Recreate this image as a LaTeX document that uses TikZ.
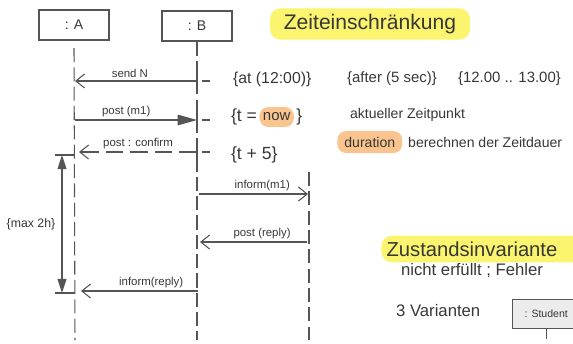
\documentclass[tikz,border=0pt]{standalone}
\usepackage{fontspec}
\setmainfont{Liberation Sans}
\usetikzlibrary{arrows.meta,positioning}
\definecolor{linegray}{RGB}{85,85,85}
\definecolor{inkgray}{RGB}{55,55,55}
\definecolor{hlyellow}{RGB}{250,244,110}
\definecolor{hlorange}{RGB}{250,196,142}
\tikzset{
    objbox/.style={
        draw=linegray,
        line width=0.6pt,
        minimum width=1.4cm,
        minimum height=0.6cm,
        text=inkgray,
        font=\fontsize{8}{9}\selectfont
    },
    lifeline/.style={
        linegray,
        line width=0.6pt,
        dash pattern=on 8pt off 3pt
    },
    % offene Pfeilspitze fuer Nachrichten
    msgarrow/.style={
        linegray,
        line width=0.6pt,
        -{Straight Barb[length=5pt,width=8pt]}
    },
    callarrow/.style={
        linegray,
        line width=0.6pt,
        -{Triangle[length=11pt,width=6pt]}
    },
    msglabel/.style={above, inner sep=1.5pt, text=inkgray, font=\fontsize{6.5}{7}\selectfont},
    note/.style={inner sep=1pt, text=inkgray, font=\fontsize{9}{10}\selectfont},
    bignote/.style={inner sep=1pt, text=inkgray, font=\fontsize{10}{12}\selectfont},
    hlyel/.style={fill=hlyellow, rounded corners=6pt, inner xsep=4pt, minimum height=0.38cm, text=inkgray, font=\fontsize{12}{14}\selectfont},
    hlora/.style={fill=hlorange, rounded corners=5pt, inner xsep=2pt, minimum height=0.34cm, text=inkgray}
}
\begin{document}
\begin{tikzpicture}[x=0.02cm, y=-0.02cm]
    \useasboundingbox (0,0) rectangle (573,343);
    \clip (0,0) rectangle (573,343);
    % Lebenslinien
    \node[objbox] (A) at (74,25) {: A};
    \node[objbox] (B) at (197,26) {: B};
    \coordinate (Aend) at (75,340);
    \coordinate (Bend) at (197,340);
    \coordinate (Ctop) at (309,172);
    \coordinate (Cend) at (309,340);
    \draw[lifeline] (A.south |- 0,48) -- (Aend);
    \draw[lifeline] (B.south) -- (Bend);
    \draw[lifeline] (Ctop) -- (Cend);
    % Nachrichten
    \coordinate (a1) at (75,81);   \coordinate (b1) at (197,81);
    \coordinate (a2) at (75,120);  \coordinate (b2) at (197,120);
    \coordinate (a3) at (79,152);  \coordinate (b3) at (197,152);
    \coordinate (b4) at (199,194); \coordinate (c4) at (308,194);
    \coordinate (b5) at (200,242); \coordinate (c5) at (307,242);
    \coordinate (a6) at (81,291);  \coordinate (b6) at (198,291);
    \draw[msgarrow] (b1) -- node[msglabel, pos=0.55] {send N} (a1);
    \draw[callarrow] (a2) -- node[msglabel, pos=0.42] {post (m1)} (b2);
    \draw[msgarrow, dash pattern=on 10pt off 4pt] (b3) -- node[msglabel, pos=0.5] {post : confirm} (a3);
    \draw[msgarrow] (b4) -- node[msglabel, pos=0.58] {inform(m1)} (c4);
    \draw[msgarrow] (c5) -- node[msglabel, pos=0.42] {post (reply)} (b5);
    \draw[msgarrow] (b6) -- node[msglabel, pos=0.4] {inform(reply)} (a6);
    % Markierungen an B
    \foreach \m in {b1,b2,b3}{
        \draw[linegray, line width=0.6pt] (\m) ++(0,-7) -- ++(0,14);
        \draw[linegray, line width=0.6pt] (\m) ++(5,0) -- ++(8,0);
    }
    % Zeitdauer
    \coordinate (d1) at (55,155);
    \coordinate (d2) at (55,293);
    \draw[linegray, line width=0.6pt] (d1) -- (d1 -| Aend);
    \draw[linegray, line width=0.6pt] (d2) -- (d2 -| Aend);
    \draw[linegray, line width=0.8pt, {Triangle[length=8pt,width=5pt]}-{Triangle[length=8pt,width=5pt]}]
        ([xshift=0.14cm]d1) -- node[left, inner sep=2pt, xshift=-0.05cm, text=inkgray, font=\fontsize{7}{8}\selectfont] (maxdur) {\{max 2h\}} ([xshift=0.14cm]d2);
    % Zeiteinschraenkung
    \node[hlyel, minimum width=4cm] (zeit) at (370,24) {Zeiteinschränkung};
    \node[note, anchor=west] (at) at (231,79) {\{at (12:00)\}};
    \node[note, anchor=west, font=\fontsize{8.5}{10}\selectfont] (after) at (345,79) {\{after (5 sec)\}};
    \node[note, anchor=west, font=\fontsize{8.5}{10}\selectfont] (range) at (456,79) {\{12.00 .. 13.00\}};
    \node[bignote, anchor=west] (teq) at (229,117) {\{t =};
    \node[hlora, right=0pt of teq, font=\fontsize{8.5}{10}\selectfont] (now) {now};
    \node[bignote, right=0pt of now] (teqr) {\}};
    \node[note, anchor=west, font=\fontsize{8}{9}\selectfont] (akt) at (348,115) {aktueller Zeitpunkt};
    \node[hlora, anchor=west, font=\fontsize{8}{9}\selectfont, inner xsep=4pt] (dur) at (337,142) {duration};
    \node[note, anchor=west, font=\fontsize{8}{9}\selectfont, inner xsep=3pt] (ber) at (dur.east) {berechnen der Zeitdauer};
    \node[bignote, anchor=west] (tplus) at (229,155) {\{t + 5\}};
    % Zustandsinvariante
    \node[hlyel, anchor=west, minimum height=0.36cm, minimum width=4.1cm, inner xsep=3pt, align=left, text width=3.9cm, font=\fontsize{11.5}{14}\selectfont] (inv) at (381,249) {Zustandsinvariante};
    \node[note, anchor=west, font=\fontsize{9.5}{11}\selectfont] (fehler) at (399,271) {nicht erfüllt ; Fehler};
    \node[note, anchor=west, font=\fontsize{9.5}{11}\selectfont] (var) at (394,311) {3 Varianten};
    \node[objbox, fill=gray!15, anchor=north west, minimum width=1.35cm, minimum height=0.58cm, font=\fontsize{6}{7}\selectfont] (stud) at (512,299) {: Student};
    \draw[linegray, line width=0.6pt] (stud.south) -- ++(0,10);
\end{tikzpicture}
\end{document}
